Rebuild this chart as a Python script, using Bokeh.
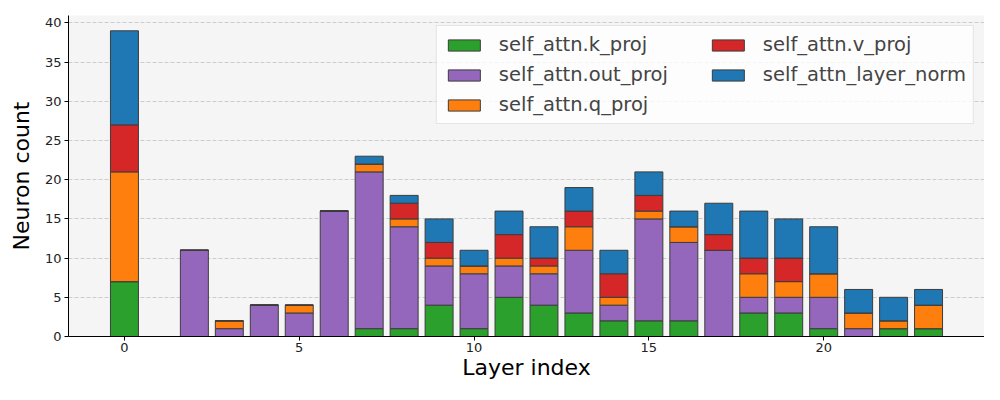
from bokeh.plotting import figure
from bokeh.models import ColumnDataSource, Range1d, Legend, LegendItem, FixedTicker
from bokeh.embed import file_html
from bokeh.resources import INLINE

layers = list(range(24))
k_proj =     [7, 0, 0, 0, 0, 0, 0, 1, 1, 4, 1, 5, 4, 3, 2, 2, 2, 0, 3, 3, 1, 0, 1, 1]
out_proj =   [0, 0, 11, 1, 4, 3, 16, 20, 13, 5, 7, 4, 4, 8, 2, 13, 10, 11, 2, 2, 4, 1, 0, 0]
q_proj =     [14, 0, 0, 1, 0, 1, 0, 1, 1, 1, 1, 1, 1, 3, 1, 1, 2, 0, 3, 2, 3, 2, 1, 3]
v_proj =     [6, 0, 0, 0, 0, 0, 0, 0, 2, 2, 0, 3, 1, 2, 3, 2, 0, 2, 2, 3, 0, 0, 0, 0]
layer_norm = [12, 0, 0, 0, 0, 0, 0, 1, 1, 3, 2, 3, 4, 3, 3, 3, 2, 4, 6, 5, 6, 3, 3, 2]

series = ["self_attn.k_proj", "self_attn.out_proj", "self_attn.q_proj",
          "self_attn.v_proj", "self_attn_layer_norm"]
colors = ["#2ca02c", "#9467bd", "#ff7f0e", "#d62728", "#1f77b4"]

source = ColumnDataSource(dict(
    x=layers,
    k=k_proj, out=out_proj, q=q_proj, v=v_proj, norm=layer_norm,
))
keys = ["k", "out", "q", "v", "norm"]

FONT = "DejaVu Sans"

p = figure(width=984, height=384, output_backend="svg", toolbar_location=None,
           x_range=Range1d(-1.6, 24.6), y_range=Range1d(0, 40.95),
           min_border_left=68, min_border_right=0, min_border_top=15, min_border_bottom=48)
p.background_fill_color = "#f5f5f5"
p.border_fill_color = "white"
p.outline_line_color = None

renderers = p.vbar_stack(keys, x="x", width=0.8, source=source, color=colors,
                         line_color="#3c3c3c", line_width=1)
for r, c in zip(renderers, colors):
    r.glyph.fill_color = c
    r.glyph.line_color = "#3c3c3c"

# axes
p.xaxis.ticker = FixedTicker(ticks=[0, 5, 10, 15, 20])
p.yaxis.ticker = FixedTicker(ticks=list(range(0, 45, 5)))
for ax in (p.xaxis[0], p.yaxis[0]):
    ax.major_tick_in = 0
    ax.major_tick_out = 4
    ax.minor_tick_line_color = None
    ax.axis_line_color = "black"
    ax.axis_line_width = 1
    ax.major_tick_line_color = "black"
    ax.major_label_text_font = FONT
    ax.major_label_text_font_size = "13px"
    ax.major_label_text_color = "#222222"
    ax.axis_label_text_font = FONT
    ax.axis_label_text_font_size = "22px"
    ax.axis_label_text_font_style = "normal"
    ax.axis_label_text_color = "black"
p.xaxis.axis_label = "Layer index"
p.yaxis.axis_label = "Neuron count"
p.yaxis.major_label_standoff = 3
p.yaxis.axis_label_standoff = 8
p.xaxis.major_label_standoff = 2
p.xaxis.axis_label_standoff = 0

p.xgrid.grid_line_color = None
p.ygrid.grid_line_color = "#cccccc"
p.ygrid.grid_line_dash = "4 2"
p.ygrid.grid_line_width = 1

items = [LegendItem(label=s, renderers=[r]) for s, r in zip(series, renderers)]
legend = Legend(items=items, location="top_right", orientation="vertical", nrows=3,
                label_text_font=FONT, label_text_font_size="19.5px",
                glyph_width=40, glyph_height=14, label_standoff=15,
                label_width=202,
                spacing=7, padding=7, margin=10,
                border_line_color="#cccccc", border_line_width=1,
                background_fill_color="white", background_fill_alpha=0.8)
p.add_layout(legend, "center")

open("out.html", "w").write(file_html(p, INLINE))
